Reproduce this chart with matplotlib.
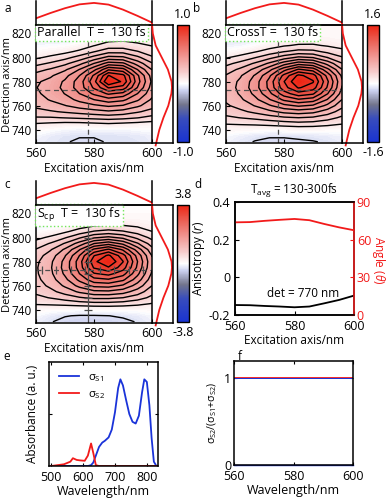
import numpy as np
import matplotlib
matplotlib.use('Agg')
import matplotlib.pyplot as plt
from matplotlib.colors import LinearSegmentedColormap, Normalize
from matplotlib.cm import ScalarMappable

plt.rcParams['font.family'] = ['Open Sans', 'DejaVu Sans']
plt.rcParams['font.size'] = 8.5
plt.rcParams['mathtext.fontset'] = 'custom'
plt.rcParams['mathtext.rm'] = 'Open Sans'
plt.rcParams['mathtext.it'] = 'Open Sans:italic'
plt.rcParams['axes.linewidth'] = 1.1
plt.rcParams['contour.negative_linestyle'] = 'solid'

# ---------------- data ----------------
exc_nm = [560, 565, 570, 575, 580, 585, 590, 595, 600]
det_nm = [730, 735, 740, 745, 750, 755, 760, 765, 770, 775, 780,
          785, 790, 795, 800, 805, 810, 815, 820, 825, 830]

map_parallel = [
    [-0.04, -0.06, -0.08, -0.09, -0.09, -0.08, -0.08, -0.07, -0.05],
    [-0.02, -0.05, -0.07, -0.08, -0.08, -0.08, -0.07, -0.06, -0.04],
    [0.02, 0.00, -0.02, -0.03, -0.02, -0.02, -0.02, -0.01, 0.00],
    [0.08, 0.07, 0.06, 0.06, 0.07, 0.08, 0.07, 0.06, 0.05],
    [0.16, 0.16, 0.17, 0.18, 0.19, 0.20, 0.19, 0.17, 0.14],
    [0.22, 0.24, 0.26, 0.28, 0.30, 0.32, 0.30, 0.26, 0.22],
    [0.27, 0.30, 0.33, 0.37, 0.40, 0.43, 0.41, 0.35, 0.28],
    [0.30, 0.34, 0.38, 0.44, 0.50, 0.55, 0.52, 0.43, 0.32],
    [0.32, 0.36, 0.42, 0.50, 0.60, 0.68, 0.64, 0.50, 0.36],
    [0.33, 0.37, 0.44, 0.54, 0.68, 0.84, 0.80, 0.58, 0.38],
    [0.32, 0.36, 0.43, 0.54, 0.72, 1.00, 0.90, 0.62, 0.40],
    [0.28, 0.32, 0.39, 0.50, 0.68, 0.92, 0.86, 0.60, 0.38],
    [0.22, 0.26, 0.32, 0.42, 0.56, 0.74, 0.70, 0.50, 0.33],
    [0.14, 0.18, 0.23, 0.31, 0.42, 0.54, 0.52, 0.38, 0.26],
    [0.07, 0.10, 0.14, 0.20, 0.28, 0.36, 0.35, 0.27, 0.18],
    [0.02, 0.04, 0.06, 0.10, 0.16, 0.22, 0.22, 0.17, 0.12],
    [-0.02, -0.01, 0.00, 0.03, 0.08, 0.12, 0.12, 0.10, 0.08],
    [-0.04, -0.05, -0.06, -0.04, 0.02, 0.06, 0.07, 0.06, 0.05],
    [-0.03, -0.05, -0.07, -0.06, 0.00, 0.04, 0.05, 0.05, 0.04],
    [-0.02, -0.03, -0.04, -0.03, 0.01, 0.03, 0.04, 0.04, 0.03],
    [-0.02, -0.02, -0.03, -0.02, 0.01, 0.02, 0.03, 0.03, 0.03],
]

map_cross = [
    [-0.05, -0.10, -0.14, -0.16, -0.16, -0.15, -0.14, -0.12, -0.08],
    [-0.02, -0.06, -0.10, -0.12, -0.12, -0.11, -0.10, -0.08, -0.05],
    [0.05, 0.04, 0.03, 0.02, 0.03, 0.04, 0.04, 0.03, 0.03],
    [0.14, 0.15, 0.16, 0.18, 0.20, 0.22, 0.21, 0.18, 0.14],
    [0.24, 0.27, 0.30, 0.34, 0.38, 0.40, 0.38, 0.32, 0.24],
    [0.32, 0.37, 0.43, 0.50, 0.57, 0.60, 0.57, 0.47, 0.34],
    [0.38, 0.45, 0.54, 0.65, 0.76, 0.82, 0.78, 0.63, 0.44],
    [0.42, 0.51, 0.63, 0.79, 0.96, 1.05, 1.00, 0.79, 0.53],
    [0.45, 0.55, 0.70, 0.90, 1.14, 1.28, 1.22, 0.94, 0.61],
    [0.46, 0.57, 0.74, 0.97, 1.28, 1.48, 1.40, 1.05, 0.66],
    [0.45, 0.56, 0.73, 0.98, 1.33, 1.60, 1.48, 1.09, 0.68],
    [0.41, 0.52, 0.68, 0.91, 1.24, 1.50, 1.40, 1.02, 0.64],
    [0.33, 0.43, 0.57, 0.76, 1.02, 1.22, 1.14, 0.84, 0.54],
    [0.23, 0.31, 0.42, 0.56, 0.74, 0.88, 0.83, 0.62, 0.41],
    [0.12, 0.18, 0.26, 0.36, 0.47, 0.56, 0.53, 0.40, 0.28],
    [0.02, 0.06, 0.12, 0.19, 0.26, 0.31, 0.30, 0.23, 0.17],
    [-0.06, -0.04, 0.01, 0.07, 0.12, 0.15, 0.15, 0.12, 0.09],
    [-0.10, -0.10, -0.07, -0.02, 0.03, 0.06, 0.07, 0.06, 0.05],
    [-0.10, -0.12, -0.10, -0.05, 0.00, 0.03, 0.04, 0.04, 0.05],
    [-0.08, -0.10, -0.09, -0.05, -0.01, 0.02, 0.03, 0.03, 0.04],
    [-0.07, -0.08, -0.08, -0.05, -0.01, 0.02, 0.03, 0.03, 0.04],
]

map_scp = [
    [-0.15, -0.30, -0.40, -0.45, -0.45, -0.42, -0.38, -0.30, -0.15],
    [-0.05, -0.20, -0.30, -0.34, -0.34, -0.32, -0.28, -0.20, -0.08],
    [0.10, 0.05, 0.02, 0.00, 0.02, 0.04, 0.04, 0.05, 0.08],
    [0.35, 0.38, 0.42, 0.48, 0.52, 0.52, 0.48, 0.40, 0.30],
    [0.55, 0.65, 0.78, 0.92, 1.02, 1.02, 0.95, 0.78, 0.55],
    [0.70, 0.86, 1.08, 1.32, 1.50, 1.52, 1.40, 1.12, 0.75],
    [0.80, 1.02, 1.32, 1.68, 1.98, 2.02, 1.85, 1.45, 0.95],
    [0.86, 1.13, 1.50, 1.98, 2.42, 2.50, 2.28, 1.74, 1.10],
    [0.90, 1.20, 1.64, 2.22, 2.82, 2.96, 2.66, 1.98, 1.22],
    [0.91, 1.23, 1.70, 2.36, 3.20, 3.45, 3.00, 2.15, 1.30],
    [0.88, 1.20, 1.68, 2.38, 3.40, 3.80, 3.18, 2.22, 1.32],
    [0.80, 1.10, 1.56, 2.22, 3.15, 3.55, 2.98, 2.10, 1.25],
    [0.65, 0.92, 1.32, 1.88, 2.60, 2.90, 2.48, 1.76, 1.06],
    [0.45, 0.66, 0.98, 1.40, 1.90, 2.10, 1.82, 1.30, 0.80],
    [0.22, 0.38, 0.60, 0.90, 1.22, 1.34, 1.18, 0.86, 0.54],
    [0.00, 0.10, 0.26, 0.46, 0.66, 0.74, 0.66, 0.50, 0.32],
    [-0.15, -0.10, 0.02, 0.16, 0.28, 0.34, 0.32, 0.26, 0.18],
    [-0.22, -0.20, -0.12, -0.02, 0.08, 0.12, 0.13, 0.12, 0.10],
    [-0.22, -0.22, -0.16, -0.08, 0.00, 0.04, 0.06, 0.06, 0.06],
    [-0.18, -0.20, -0.16, -0.08, -0.02, 0.02, 0.04, 0.04, 0.04],
    [-0.15, -0.18, -0.15, -0.08, -0.02, 0.02, 0.04, 0.04, 0.04],
]

# marginal spectra
exc_spec_nm = [560, 565, 570, 575, 580, 585, 590, 595, 600]
exc_spec = [0.28, 0.50, 0.70, 0.86, 0.92, 0.85, 0.64, 0.38, 0.10]
det_spec_nm = [727, 730, 740, 750, 760, 770, 775, 780, 790, 800, 810, 820, 828]
det_spec = [0.18, 0.22, 0.36, 0.56, 0.80, 0.95, 0.98, 0.96, 0.78, 0.48, 0.18, 0.04, 0.0]

# panel d
aniso_exc = [560, 565, 570, 575, 580, 585, 590, 595, 600]
anisotropy = [-0.147, -0.148, -0.152, -0.155, -0.159, -0.155, -0.138, -0.120, -0.097]
angle = [73.8, 74.0, 75.0, 75.8, 76.5, 75.5, 72.5, 69.8, 67.5]

# panel e
abs_nm = [500, 540, 560, 568, 580, 590, 605, 615, 625, 632, 640, 650, 660, 668,
          680, 690, 700, 710, 717, 725, 735, 745, 755, 765, 775, 785, 792, 800,
          808, 815, 822, 830, 840, 850]
sigma_s1 = [0, 0, 0, 0, 0, 0, 0, 0, 0.01, 0.04, 0.12, 0.22, 0.27, 0.29,
            0.33, 0.42, 0.62, 0.90, 1.00, 0.93, 0.76, 0.60, 0.51, 0.49, 0.58, 0.85, 1.00, 0.97,
            0.70, 0.32, 0.05, 0.0, 0.0, 0.0]
sigma_s2 = [0, 0.02, 0.05, 0.09, 0.07, 0.065, 0.06, 0.12, 0.26, 0.15, 0.01, 0, 0, 0,
            0, 0, 0, 0, 0, 0, 0, 0, 0, 0, 0, 0, 0, 0,
            0, 0, 0, 0, 0, 0]

# panel f
ratio_nm = [560, 600]
ratio_s2 = [1.0, 1.0]
ratio_s1 = [0.0, 0.0]

# ---------------- figure ----------------
W, H = 387, 498
fig = plt.figure(figsize=(W / 100, H / 100), dpi=100)


def rect(x0, y0, x1, y1):
    return [x0 / W, 1 - y1 / H, (x1 - x0) / W, (y1 - y0) / H]


cmap = LinearSegmentedColormap.from_list('bwr2', [
    (0.00, (0.10, 0.20, 0.82)),
    (0.20, (0.22, 0.30, 0.74)),
    (0.32, (0.45, 0.46, 0.55)),
    (0.44, (0.80, 0.82, 0.94)),
    (0.50, (1.00, 1.00, 1.00)),
    (0.60, (0.97, 0.80, 0.80)),
    (0.75, (0.94, 0.56, 0.54)),
    (0.90, (0.92, 0.32, 0.27)),
    (1.00, (0.93, 0.14, 0.07)),
])

RED = (0.95, 0.1, 0.1)


def draw_map(dx, dy, Z, vmax, label, ylabel, crossmarks=False):
    Z = np.array(Z)
    X, Y = np.meshgrid(exc_nm, det_nm)
    ax = fig.add_axes(rect(36 + dx, 25 + dy, 152 + dx, 143 + dy))
    ax.contourf(X, Y, Z, levels=np.linspace(-vmax, vmax, 121), cmap=cmap,
                vmin=-vmax, vmax=vmax)
    lv = np.linspace(-vmax, vmax, 25)
    lv = lv[np.abs(lv) > 1e-9]
    ax.contour(X, Y, Z, levels=lv, colors='k', linewidths=1.0)
    ax.set_xlim(560, 600)
    ax.set_ylim(729, 827)
    ax.set_xticks([560, 580, 600])
    ax.set_yticks([740, 760, 780, 800, 820])
    ax.tick_params(direction='in', length=3, labelsize=8.5, pad=3)
    ax.tick_params(axis='x', labelsize=9)
    ax.set_xlabel('Excitation axis/nm', fontsize=8.5, labelpad=1)
    if ylabel:
        ax.set_ylabel('Detection axis/nm', fontsize=8)
        ax.yaxis.set_label_coords(-0.198, 0.5)
    cx, cy = 578, 773
    if crossmarks:
        ax.plot([cx, cx], [729, 827], color='0.3', lw=0.9)
        ax.plot([560, 600], [cy, cy], color='0.3', lw=0.9, ls=(0, (4, 3)))
        ax.plot([cx] * 9, np.arange(740, 825, 10), '_', color='0.3', ms=6, mew=0.9)
        ax.plot(np.arange(562, 600, 5), [cy] * 8, '|', color='0.3', ms=6, mew=0.9)
    else:
        ax.plot([cx, cx], [729, 827], color='0.3', lw=0.9, ls=(0, (4, 3)))
        ax.plot([560, 600], [cy, cy], color='0.3', lw=0.9, ls=(0, (4, 3)))
    ax.text(0.008, 0.992, label, transform=ax.transAxes, ha='left', va='top',
            fontsize=9,
            bbox=dict(boxstyle='square,pad=0.18', fc='white', ec=(0.45, 0.9, 0.35),
                      ls=':', lw=1.0))
    # top marginal
    axt = fig.add_axes(rect(36 + dx, 1 + dy, 152 + dx, 25 + dy))
    axt.plot(exc_spec_nm, exc_spec, color=RED, lw=1.3)
    axt.set_xlim(560, 600)
    axt.set_ylim(0, 1)
    axt.set_xticks([])
    axt.set_yticks([])
    axt.spines['top'].set_visible(False)
    axt.patch.set_alpha(0)
    # right marginal
    axr = fig.add_axes(rect(152 + dx, 25 + dy, 173 + dx, 143 + dy))
    axr.plot(det_spec, det_spec_nm, color=RED, lw=1.3, clip_on=False)
    axr.set_xlim(0, 1.03)
    axr.set_ylim(729, 827)
    axr.set_xticks([])
    axr.set_yticks([])
    axr.spines['left'].set_visible(False)
    axr.patch.set_alpha(0)
    # colorbar
    cax = fig.add_axes(rect(177 + dx, 25 + dy, 189 + dx, 142 + dy))
    cb = fig.colorbar(ScalarMappable(Normalize(-vmax, vmax), cmap), cax=cax, ticks=[])
    cb.outline.set_linewidth(1.0)
    cax.text(0.5, 1.03, f'{vmax:.1f}', transform=cax.transAxes, ha='center',
             va='bottom', fontsize=9)
    cax.text(0.5, -0.03, f'-{vmax:.1f}', transform=cax.transAxes, ha='center',
             va='top', fontsize=9)
    return ax


draw_map(0, 0, map_parallel, 1.0, 'Parallel  T =  130 fs', True)
draw_map(190, 0, map_cross, 1.6, 'CrossT =  130 fs', False)
draw_map(0, 180, map_scp, 3.8, r'S$_{\rm cp}$  T =  130 fs', True, crossmarks=True)

# panel d
axd = fig.add_axes(rect(235, 202, 354, 315))
axd.plot(aniso_exc, anisotropy, color='k', lw=1.3)
axd.set_xlim(560, 600)
axd.set_ylim(-0.2, 0.4)
axd.set_xticks([560, 580, 600])
axd.set_yticks([-0.2, 0, 0.2, 0.4])
axd.set_yticklabels(['-0.2', '0', '0.2', '0.4'])
axd.tick_params(direction='in', length=3, labelsize=9)
axd.set_xlabel('Excitation axis/nm', fontsize=8.5, labelpad=1)
axd.set_ylabel('Anisotropy ($r$)', fontsize=8.5, labelpad=1)
axd.set_title(r'T$_{\rm avg}$ = 130-300fs', fontsize=8.5, pad=6)
axd.text(583, -0.085, 'det = 770 nm', ha='center', va='center', fontsize=8.5)
axd2 = axd.twinx()
axd2.plot(aniso_exc, angle, color=RED, lw=1.3)
axd2.set_ylim(0, 90)
axd2.set_yticks([0, 30, 60, 90])
axd2.tick_params(direction='in', length=3, labelsize=9, colors=RED, pad=2)
axd2.spines['right'].set_color(RED)
fig.text(379 / W, 1 - 260 / H, r'Angle ($\theta$)', color=RED, fontsize=8.5,
         rotation=270, ha='center', va='center')

# panel e
axe = fig.add_axes(rect(49, 362, 158, 466))
axe.plot(abs_nm, sigma_s1, color=(0.1, 0.2, 0.85), lw=1.3, label='σ$_{\\rm S1}$')
axe.plot(abs_nm, sigma_s2, color=RED, lw=1.3, label='σ$_{\\rm S2}$')
axe.set_xlim(493, 835)
axe.set_ylim(0, 1.2)
axe.set_xticks([500, 600, 700, 800])
axe.set_yticks([0.6])
axe.set_yticklabels([])
axe.tick_params(direction='in', length=2.5, labelsize=9, top=True, right=True)
axe.set_xlabel('Wavelength/nm', fontsize=9, labelpad=1)
axe.set_ylabel('Absorbance (a. u.)', fontsize=8.5, labelpad=4)
axe.legend(loc='upper left', frameon=False, fontsize=8, handlelength=1.8,
           borderaxespad=0.3, labelspacing=0.5, bbox_to_anchor=(0.02, 0.98))

# panel f
axf = fig.add_axes(rect(234, 361, 353, 465))
axf.plot(ratio_nm, ratio_s1, color=(0.1, 0.2, 0.85), lw=1.0, clip_on=False)
axf.plot(ratio_nm, ratio_s2, color=RED, lw=1.3)
axf.plot(ratio_nm, ratio_s2, color=(0.1, 0.2, 0.85), lw=0.7)
axf.set_xlim(560, 600)
axf.set_ylim(0, 1.2)
axf.set_xticks([560, 580, 600])
axf.set_yticks([0, 1])
axf.tick_params(direction='in', length=2.5, labelsize=9, top=True, right=True)
axf.tick_params(axis='y', pad=2)
axf.set_xlabel('Wavelength/nm', fontsize=9, labelpad=1)
axf.set_ylabel('σ$_{\\rm S2}$/(σ$_{\\rm S1}$+σ$_{\\rm S2}$)', fontsize=7.5, labelpad=4)

# panel letters
for t, x, y in [('a', 8, 8), ('b', 197, 8), ('c', 7, 184), ('d', 198, 185),
                ('e', 7, 356), ('f', 240, 356)]:
    fig.text(x / W, 1 - y / H, t, fontsize=8.5, ha='center', va='center')

fig.savefig('out.png', dpi=100)
